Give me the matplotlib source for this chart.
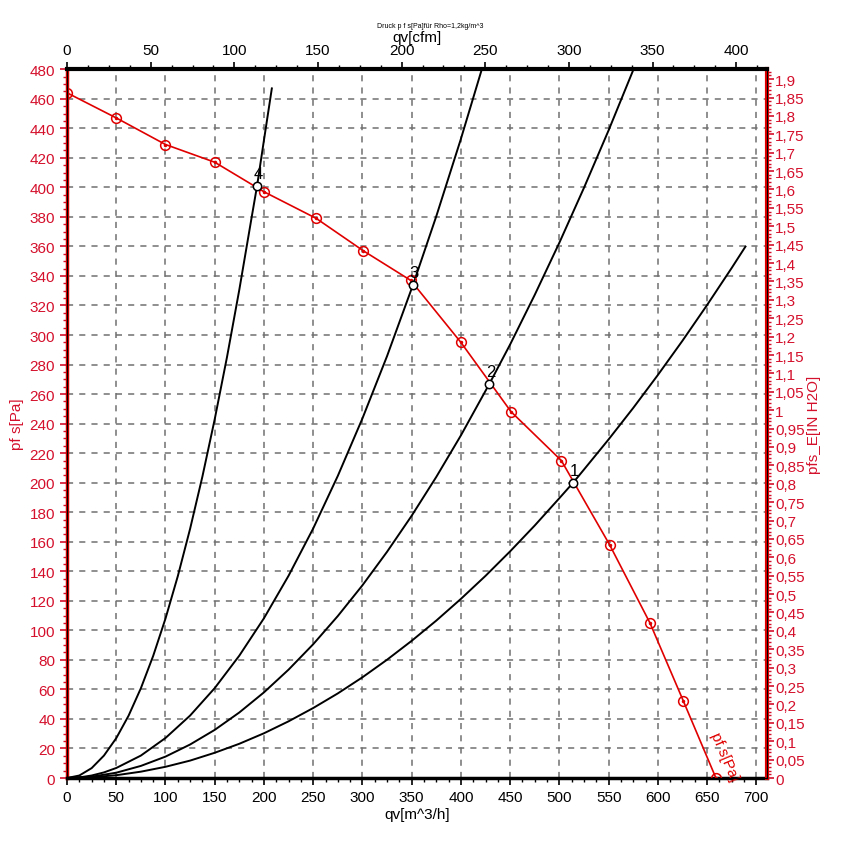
import matplotlib.pyplot as plt
from matplotlib.ticker import MultipleLocator, FuncFormatter

plt.rcParams['font.family'] = ['Liberation Sans', 'DejaVu Sans']

# fan curve (red)
fan_q = [0, 50, 100, 150, 200, 253, 301, 349, 400, 451, 502, 551, 592, 626, 659]
fan_p = [464, 447, 429, 417, 397, 379, 357, 337, 295, 248, 215, 158, 105, 52, 0]

# system curves (black)
sys1_q = [0, 25, 50, 75, 100, 125, 150, 175, 200, 225, 250, 275, 300, 325, 350, 375, 400,
          425, 450, 475, 500, 514, 525, 550, 575, 600, 625, 650, 675, 689]
sys1_p = [0, 0.5, 1.9, 4.3, 7.6, 11.8, 17.1, 23.2, 30.3, 38.4, 47.4, 57.3, 68.2, 80.1, 92.9,
          106.6, 121.3, 136.9, 153.5, 171.0, 189.5, 200, 208.9, 229.3, 250.6, 272.9, 296.1,
          320.3, 345.4, 359.9]
sys2_q = [0, 25, 50, 75, 100, 125, 150, 175, 200, 225, 250, 275, 300, 325, 350, 375, 400,
          429, 450, 475, 500, 525, 550, 575]
sys2_p = [0, 0.9, 3.6, 8.2, 14.5, 22.7, 32.6, 44.4, 58, 73.4, 90.6, 109.7, 130.5, 153.2,
          177.6, 203.9, 232, 267, 293.6, 327.2, 362.5, 399.7, 438.6, 479.4]
sys3_q = [0, 12.5, 25, 37.5, 50, 75, 100, 125, 150, 175, 200, 225, 250, 275, 300, 325, 351,
          375, 400, 421]
sys3_p = [0, 0.4, 1.7, 3.8, 6.8, 15.2, 27.1, 42.3, 60.9, 82.9, 108.2, 137, 169, 204.6, 243.5,
          285.7, 333.3, 380.4, 432.8, 479.4]
sys4_q = [0, 12.5, 25, 37.5, 50, 62.5, 75, 87.5, 100, 112.5, 125, 137.5, 150, 162.5, 175,
          187.5, 193, 200, 208]
sys4_p = [0, 1.7, 6.7, 15.2, 27, 42.2, 60.8, 82.7, 108, 136.7, 168.8, 204.2, 243, 285.2,
          330.8, 379.7, 401, 432, 467]

# operating points
op_labels = ['1', '2', '3', '4']
op_q = [514, 429, 351, 193]
op_p = [200, 267, 334, 401]

red = '#e00000'
tred = '#d4102c'

fig = plt.figure(figsize=(8.41, 8.54), dpi=100)
ax = fig.add_axes([0.0797, 0.0878, 0.832, 0.830])

for q, p in [(sys1_q, sys1_p), (sys2_q, sys2_p), (sys3_q, sys3_p), (sys4_q, sys4_p)]:
    ax.plot(q, p, color='black', lw=1.4, zorder=3)

ax.plot(fan_q, fan_p, color=red, lw=1.2, zorder=4)
ax.plot(fan_q, fan_p, 'o', mfc='none', mec=red, ms=7, mew=1.1, zorder=5)
ax.plot(fan_q, fan_p, '.', color=red, ms=3, zorder=5)

ax.plot(op_q, op_p, 'o', mfc='white', mec='black', ms=6, mew=1.1, zorder=6)
for lab, q, p in zip(op_labels, op_q, op_p):
    ax.text(q + 1, p + 3, lab, fontsize=12, ha='center', va='bottom', zorder=7)

ax.text(657, 31, 'pf s[Pa]', color=red, fontsize=11, rotation=-67,
        rotation_mode='anchor', ha='left', va='center', clip_on=False)

ax.set_xlim(0, 710.6)
ax.set_ylim(0, 480)
ax.xaxis.set_major_locator(MultipleLocator(50))
ax.xaxis.set_minor_locator(MultipleLocator(12.5))
ax.yaxis.set_major_locator(MultipleLocator(20))
ax.yaxis.set_minor_locator(MultipleLocator(5))
ax.grid(True, which='major', color='#707070', ls=(0, (4, 4)), lw=1.1)
ax.tick_params(axis='x', which='both', labelsize=11, color='black')
ax.tick_params(axis='y', which='both', labelsize=11, colors=tred)
ax.tick_params(axis='y', which='major', length=5, width=1.2)
ax.tick_params(axis='y', which='minor', length=3, width=1)
ax.tick_params(axis='x', which='major', length=5, width=1.2)
ax.tick_params(axis='x', which='minor', length=3, width=1)
ax.spines['left'].set_color(red)
ax.spines['left'].set_linewidth(2.5)
ax.spines['bottom'].set_linewidth(2.5)
ax.set_xlabel('qv[m^3/h]', fontsize=11, labelpad=2)
ax.set_ylabel('pf s[Pa]', fontsize=11, color=tred, labelpad=4)

# right axis: inch water column
axr = ax.twinx()
axr.set_ylim(0, 480 / 249.089)
axr.yaxis.set_major_locator(MultipleLocator(0.05))
axr.yaxis.set_minor_locator(MultipleLocator(0.01))
axr.yaxis.set_major_formatter(FuncFormatter(lambda v, _: ('%g' % round(v, 2)).replace('.', ',')))
axr.tick_params(axis='y', which='both', labelsize=11, colors=tred, pad=1)
axr.tick_params(axis='y', which='major', length=5, width=1.2)
axr.tick_params(axis='y', which='minor', length=3, width=1)
axr.spines['right'].set_color(red)
axr.spines['right'].set_linewidth(3)
axr.set_ylabel('pfs_E[IN H2O]', fontsize=11, color=tred, labelpad=2)

# top axis: cfm
axt = ax.twiny()
axt.set_xlim(0, 710.6 / 1.699)
axt.xaxis.set_major_locator(MultipleLocator(50))
axt.xaxis.set_minor_locator(MultipleLocator(12.5))
axt.tick_params(axis='x', which='both', labelsize=11)
axt.tick_params(axis='x', which='major', length=5, width=1.2)
axt.tick_params(axis='x', which='minor', length=3, width=1)
axt.spines['top'].set_linewidth(3)
axt.set_xlabel('qv[cfm]', fontsize=11, labelpad=2)

fig.text(0.512, 0.967, 'Druck p f s[Pa]für Rho=1,2kg/m^3', fontsize=5, ha='center')

fig.savefig('out.png', dpi=100)
